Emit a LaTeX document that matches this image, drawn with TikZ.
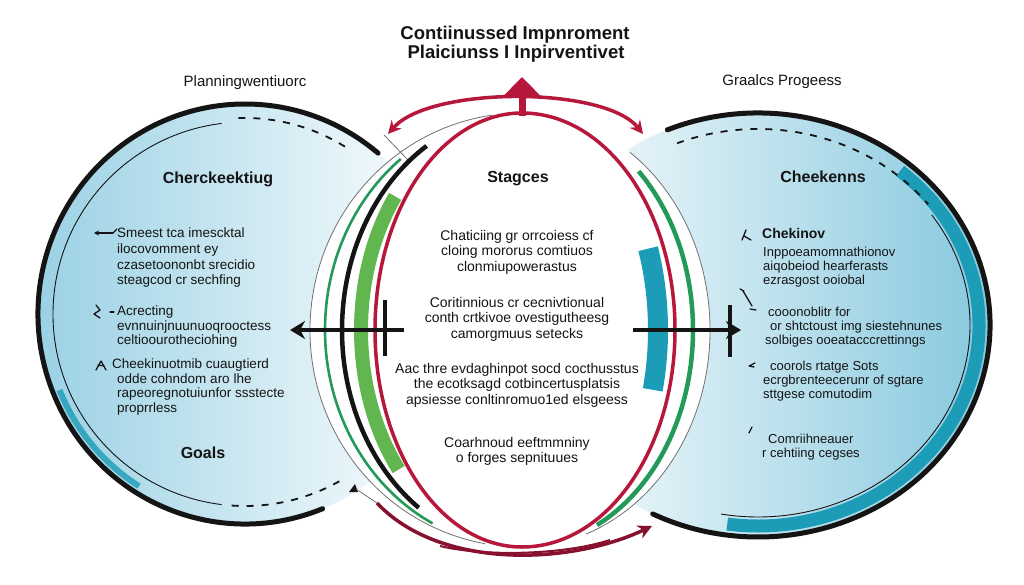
\documentclass[tikz,border=0pt]{standalone}
\usepackage{fontspec}
\setmainfont{Liberation Sans}
\usetikzlibrary{arrows.meta}
\definecolor{crim}{HTML}{B8173C}
\definecolor{dcrim}{HTML}{86102E}
\definecolor{grn}{HTML}{23995A}
\definecolor{lgrn}{HTML}{62B64F}
\definecolor{tealc}{HTML}{1C9CB6}
\definecolor{discl}{HTML}{9AD1E4}
\definecolor{discr}{HTML}{86C8DE}
\definecolor{ink}{HTML}{141414}
\definecolor{gry}{HTML}{707070}
\tikzset{
  lbody/.style={font=\fontsize{13.5}{14.4}\selectfont, align=left, anchor=north west, inner sep=0pt, text=ink},
  rbody/.style={font=\fontsize{13}{13.9}\selectfont, align=left, anchor=north west, inner sep=0pt, text=ink},
  cbody/.style={font=\fontsize{14}{15.5}\selectfont, align=center, anchor=north, inner sep=0pt, text=ink},
  head/.style={font=\bfseries\fontsize{16}{19}\selectfont, anchor=base, inner sep=0pt, text=ink},
  lab/.style={font=\fontsize{15}{18}\selectfont, anchor=base, inner sep=0pt, text=ink},
  ttl/.style={font=\bfseries\fontsize{18.5}{22}\selectfont, anchor=base, inner sep=0pt, text=ink},
  mk/.style={draw=ink, line width=1.3pt, line cap=round, line join=round},
  discborder/.style={draw=ink, line width=5pt, line cap=round},
  thinline/.style={draw=ink, line width=0.9pt},
  dashline/.style={draw=ink, line width=1.8pt, dash pattern=on 7pt off 8pt},
  redline/.style={draw=crim, line width=3.5pt, line cap=round},
  blackarrow/.style={draw=ink, line width=3.5pt, -{Stealth[length=15pt,width=18pt]}},
}
\begin{document}
\begin{tikzpicture}[x=1pt,y=-1pt]
\useasboundingbox (0,0) rectangle (1024,585);
\fill[white] (0,0) rectangle (1024,585);

\coordinate (LC) at (245,314);
\coordinate (RC) at (758,325);
\coordinate (CC) at (522,330);

% disc fills
\shade[left color=discl, right color=white] (LC) ellipse[x radius=207, y radius=210];
\shade[left color=white, right color=discr] (RC) ellipse[x radius=232, y radius=212];

% central white lens
\fill[white] (522,547) arc[start angle=90, end angle=270, x radius=212, y radius=217]
  arc[start angle=-90, end angle=90, x radius=188, y radius=217] -- cycle;

% left disc decorations
\draw[tealc, line width=6pt, opacity=0.8] ([shift={(122:200 and 203)}]LC) arc[start angle=122, end angle=158, x radius=200, y radius=203];
\draw[discborder] ([shift={(68:207 and 210)}]LC) arc[start angle=68, end angle=310, x radius=207, y radius=210];
\draw[thinline] ([shift={(97:192 and 192)}]LC) arc[start angle=97, end angle=263, radius=192];
\draw[dashline] ([shift={(268:192 and 196)}]LC) arc[start angle=268, end angle=302, x radius=192, y radius=196];
\draw[dashline] ([shift={(94:192 and 192)}]LC) arc[start angle=94, end angle=60, radius=192];
\fill[ink] (349,492) -- (355,484) -- (358,492) -- cycle;
\draw[gry, line width=0.8pt] (356,489) -- (377,503);
\draw[gry, line width=0.8pt] (384,135) -- (408,160);

% right disc decorations
\draw[tealc, line width=13pt] ([shift={(-50:221 and 201)}]RC) arc[start angle=-50, end angle=98, x radius=221, y radius=201];
\draw[discborder] ([shift={(-113:232 and 212)}]RC) arc[start angle=-113, end angle=117, x radius=232, y radius=212];
\draw[thinline] ([shift={(-35:212 and 192)}]RC) arc[start angle=-35, end angle=100, x radius=212, y radius=192];
\draw[dashline] ([shift={(248:216 and 196)}]RC) arc[start angle=248, end angle=322, x radius=216, y radius=196];

% central lens lines, left
\draw[gry, line width=0.8pt] ([shift={(100:212 and 217)}]CC) arc[start angle=100, end angle=262, x radius=212, y radius=217];
\draw[grn, line width=2.6pt] ([shift={(117:197 and 217)}]CC) arc[start angle=117, end angle=232, x radius=197, y radius=217];
\draw[ink, line width=4.5pt] ([shift={(125:180 and 217)}]CC) arc[start angle=125, end angle=238, x radius=180, y radius=217];
\draw[lgrn, line width=14pt] ([shift={(140:161 and 217)}]CC) arc[start angle=140, end angle=218, x radius=161, y radius=217];
\draw[redline] ([shift={(90:147 and 217)}]CC) arc[start angle=90, end angle=270, x radius=147, y radius=217];
% right
\draw[tealc, line width=20pt] ([shift={(-22:136 and 217)}]CC) arc[start angle=-22, end angle=16, x radius=136, y radius=217];
\draw[redline] ([shift={(-90:153 and 217)}]CC) arc[start angle=-90, end angle=90, x radius=153, y radius=217];
\draw[grn, line width=4.5pt] ([shift={(-47:171 and 217)}]CC) arc[start angle=-47, end angle=64, x radius=171, y radius=217];
\draw[gry, line width=0.8pt] ([shift={(-55:188 and 217)}]CC) arc[start angle=-55, end angle=70, x radius=188, y radius=217];

% red arrows
\coordinate (TL) at (388,134);
\coordinate (TR) at (643,134);
\draw[crim, line width=3.5pt, {Stealth[length=13pt,width=13pt]}-{Stealth[length=13pt,width=13pt]}] (TL) .. controls (430,86) and (605,86) .. (TR);
\coordinate (VB) at (522,116);
\coordinate (VT) at (522,77);
\draw[crim, line width=7pt, -{Triangle[length=20pt,width=38pt]}] (VB) -- (VT);
\coordinate (BS) at (377,503);
\coordinate (BE) at (652,526);
\draw[dcrim, line width=3.5pt, -{Stealth[length=14pt,width=14pt]}] (BS) .. controls (440,570) and (570,565) .. (BE);
\draw[dcrim, line width=2pt] (440,546) .. controls (480,556) and (560,556) .. (610,540);

% black arrows
\coordinate (LA1) at (404,330);
\coordinate (LA2) at (290,330);
\draw[blackarrow] (LA1) -- (LA2);
\draw[ink, line width=3.5pt] (385,300) -- (385,356);
\coordinate (RA1) at (633,330);
\coordinate (RA2) at (741,330);
\draw[blackarrow] (RA1) -- (RA2);
\draw[ink, line width=3.5pt] (730,305) -- (730,357);

% markers left
\draw[mk, -{Stealth[length=5pt,width=5pt]}] (113,233) -- (94,233);
\draw[mk] (113,233) -- (117,229);
\draw[mk] (96,305) -- (100,310) -- (94,314) -- (100,318);
\draw[mk] (110,312) -- (114,312);
\draw[mk] (96,370) -- (101,361) -- (106,370);
\draw[mk] (98,365) -- (104,366);
% markers right
\draw[mk] (742,240) -- (746,230);
\draw[mk] (744,236) -- (751,240);
\draw[mk] (740,289) -- (744,291);
\draw[mk] (743,291) -- (752,306);
\draw[mk] (750,309) -- (756,310);
\draw[mk] (755,363) -- (749,366) -- (754,367);
\draw[mk] (752,427) -- (749,433);

% texts
\node[ttl] (t1) at (515,40) {Contiinussed Impnroment};
\node[ttl] (t2) at (516,59) {Plaiciunss I Inpirventivet};
\node[lab] (pl) at (245,87) {Planningwentiuorc};
\node[lab] (gp) at (782,86) {Graalcs Progeess};
\node[head] (h1) at (218,183.5) {Cherckeektiug};
\node[head] (h2) at (518,182.5) {Stagces};
\node[head] (h3) at (823,182.5) {Cheekenns};
\node[head] (h4) at (203,458.5) {Goals};

\node[lbody, font=\fontsize{13.5}{15.6}\selectfont] (l1) at (117,228) {Smeest tca imescktal\\ilocovomment ey\\czasetoononbt srecidio\\steagcod cr sechfing};
\node[lbody] (l2) at (117,306) {Acrecting\\evnnuinjnuunuoqrooctess\\celtioourotheciohing};
\node[lbody] (l3) at (112,359) {Cheekinuotmib cuaugtierd\\\hspace*{5pt}odde cohndom aro lhe\\\hspace*{5pt}rapeoregnotuiunfor ssstecte\\\hspace*{5pt}proprrless};

\node[font=\bfseries\fontsize{14}{17}\selectfont, anchor=base west, inner sep=0pt, text=ink] (r0) at (762,238) {Chekinov};
\node[rbody] (r1) at (763,247) {Inppoeamomnathionov\\aiqobeiod hearferasts\\ezrasgost ooiobal};
\node[rbody] (r2) at (765,307) {\hspace*{3pt}cooonoblitr for\\\hspace*{5pt}or shtctoust img siestehnunes\\solbiges ooeatacccrettinngs};
\node[rbody] (r3) at (763,361) {\hspace*{7pt}coorols rtatge Sots\\ecrgbrenteecerunr of sgtare\\sttgese comutodim};
\node[rbody] (r4) at (762,434) {\hspace*{6pt}Comriihneauer\\r cehtiing cegses};

\node[cbody] (c1) at (517,230) {Chaticiing gr orrcoiess cf\\cloing mororus comtiuos\\clonmiupowerastus};
\node[cbody] (c2) at (517,297) {Coritinnious cr cecnivtionual\\conth crtkivoe ovestigutheesg\\camorgmuus setecks};
\node[cbody] (c3) at (517,363) {Aac thre evdaghinpot socd cocthusstus\\the ecotksagd cotbincertusplatsis\\apsiesse conltinromuo1ed elsgeess};
\node[cbody] (c4) at (517,437) {Coarhnoud eeftmmniny\\o forges sepnituues};
\end{tikzpicture}
\end{document}
